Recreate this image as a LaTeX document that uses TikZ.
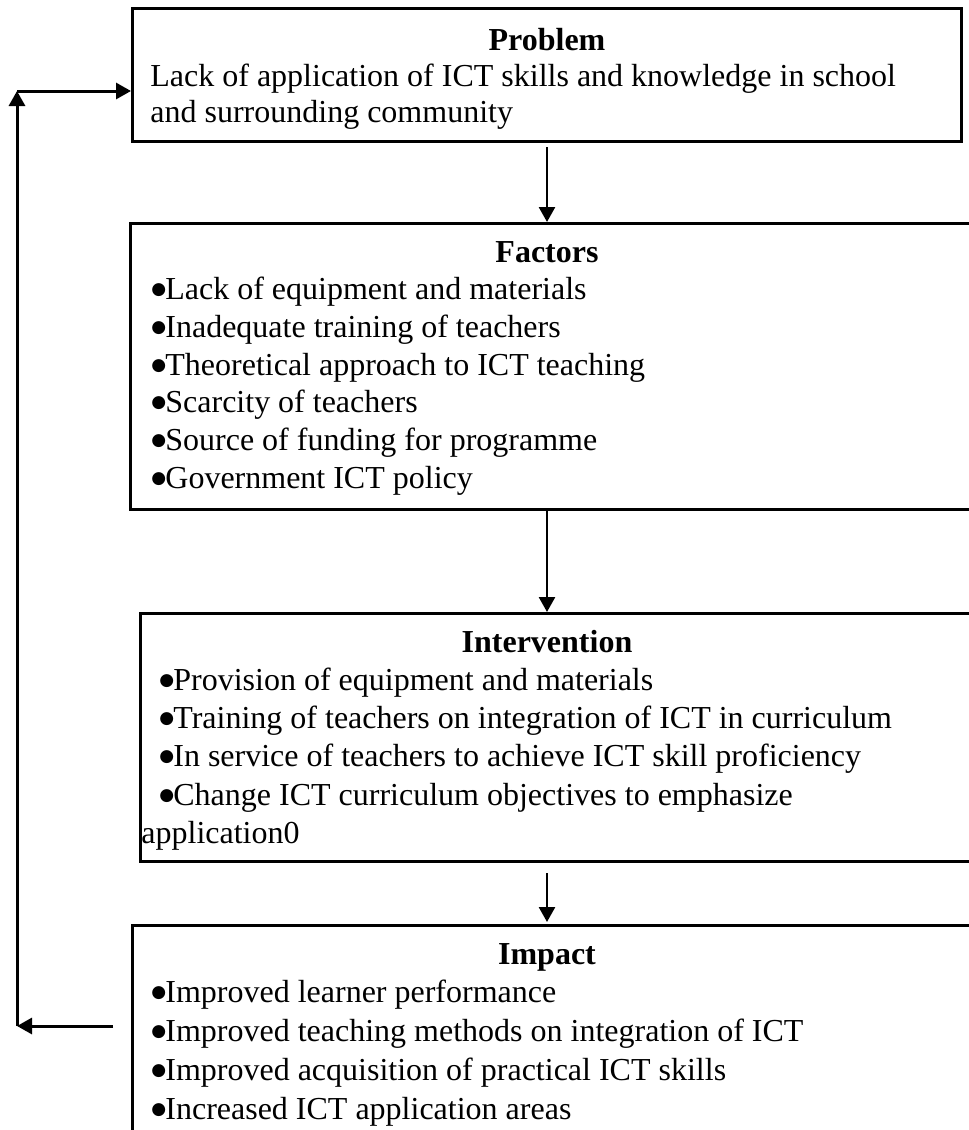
\documentclass[tikz,border=0pt]{standalone}
\usepackage{fontspec}
\setmainfont{Liberation Serif}
\newfontfamily\bulfont{DejaVu Sans}
\usetikzlibrary{arrows.meta}
\newcommand{\bul}{\makebox[7pt][l]{\raisebox{2.2pt}{\bulfont\fontsize{8.5}{8.5}\selectfont ●}}}
\begin{document}
\begin{tikzpicture}[x=0.5pt,y=-0.5pt,
 box/.style={draw,line width=1.6pt,rectangle,inner sep=0pt,anchor=north west},
 txt/.style={anchor=base west,inner sep=0pt,font=\fontsize{16}{19}\selectfont},
 ttl/.style={anchor=base,inner sep=0pt,font=\fontsize{16}{19}\selectfont\bfseries},
 arr/.style={line width=1.3pt,-{Triangle[length=7.5pt,width=8pt]}},
 fb/.style={line width=1.5pt,-{Triangle[length=7.5pt,width=8pt]}}]
\useasboundingbox (0,0) rectangle (969,1130);
\clip (0,0) rectangle (969,1130);
% boxes
\node[box,minimum width=414.5pt,minimum height=66.5pt] (prob) at (131,7) {};
\node[box,minimum width=435.5pt,minimum height=143pt] (fact) at (129,222) {};
\node[box,minimum width=430.5pt,minimum height=124pt] (interv) at (139,612) {};
\node[box,minimum width=434.5pt,minimum height=118pt] (impact) at (131,924) {};
% problem texts
\node[ttl] (ptitle) at (547,50) {Problem};
\node[txt] (p1) at (150,86) {Lack of application of ICT skills and knowledge in school};
\node[txt] (p2) at (150,122) {and surrounding community};
% factors
\node[ttl] (ftitle) at (547,262) {Factors};
\node[txt] (f1) at (151,299) {\bul Lack of equipment and materials};
\node[txt] (f2) at (151,337) {\bul Inadequate training of teachers};
\node[txt] (f3) at (151,375) {\bul Theoretical approach to ICT teaching};
\node[txt] (f4) at (151,412) {\bul Scarcity of teachers};
\node[txt] (f5) at (151,450) {\bul Source of funding for programme};
\node[txt] (f6) at (151,488) {\bul Government ICT policy};
% intervention
\node[ttl] (ititle) at (547,652) {Intervention};
\node[txt] (i1) at (159,690) {\bul Provision of equipment and materials};
\node[txt] (i2) at (159,728) {\bul Training of teachers on integration of ICT in curriculum};
\node[txt] (i3) at (159,766) {\bul In service of teachers to achieve ICT skill proficiency};
\node[txt] (i4) at (159,805) {\bul Change ICT curriculum objectives to emphasize};
\node[txt] (i5) at (141,843) {application0};
% impact
\node[ttl] (mtitle) at (547,964) {Impact};
\node[txt] (m1) at (151,1002) {\bul Improved learner performance};
\node[txt] (m2) at (151,1041) {\bul Improved teaching methods on integration of ICT};
\node[txt] (m3) at (151,1080) {\bul Improved acquisition of practical ICT skills};
\node[txt] (m4) at (151,1119) {\bul Increased ICT application areas};
% connectors
\coordinate (a1s) at (547,147);
\coordinate (a3s) at (547,873);
\coordinate (a3e) at (547,922);
\draw[arr] (a1s) -- (a1s |- fact.north);
\draw[arr] (a1s |- fact.south) -- (a1s |- interv.north);
\draw[arr] (a3s) -- (a3e);
\coordinate (fbs) at (113,1026);
\coordinate (fbc) at (17,1026);
\coordinate (fbt) at (17,91);
\draw[fb] (fbs) -- (fbc);
\draw[fb] (fbc) -- (fbt);
\draw[fb] (fbt) -- (fbt -| prob.west);
\end{tikzpicture}
\end{document}
